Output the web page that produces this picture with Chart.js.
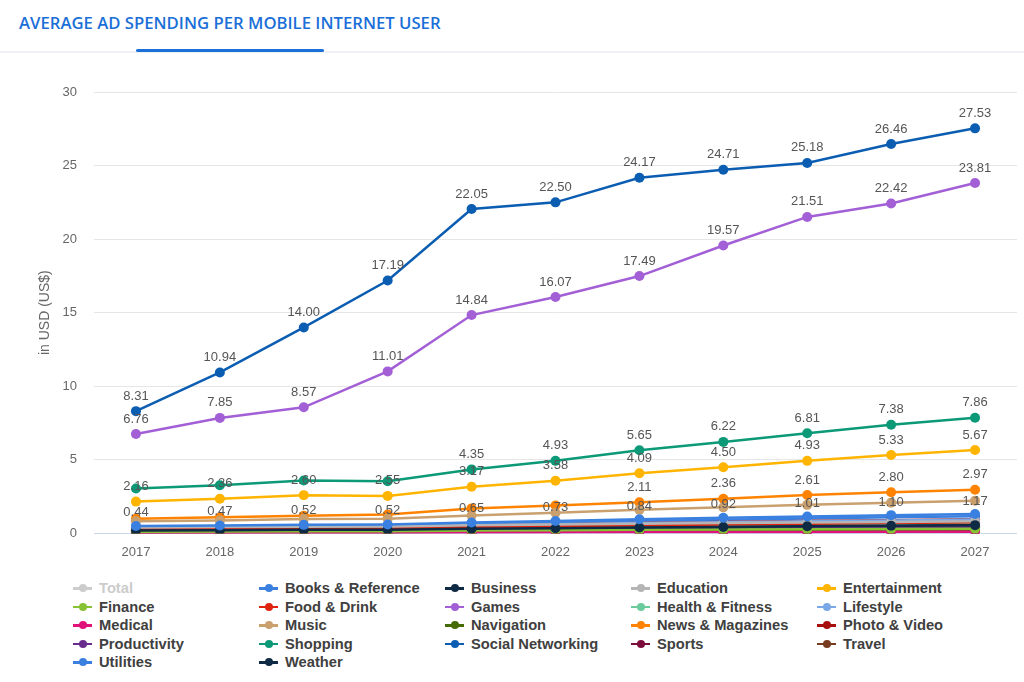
<!DOCTYPE html>
<html>
<head>
<meta charset="utf-8">
<script src="https://cdn.jsdelivr.net/npm/chart.js@4/dist/chart.umd.min.js"></script>
<style>
  html, body { margin: 0; padding: 0; background: #fff; }
  body { width: 1024px; height: 682px; position: relative; overflow: hidden; font-family: "Liberation Sans", Arial, sans-serif; }
  .head-title { position: absolute; left: 19px; top: 11px; font-family: "Open Sans", "Noto Sans", sans-serif; font-weight: 600; font-size: 16.7px; color: #1b6fd8; letter-spacing: 0; white-space: nowrap; }
  .head-rule { position: absolute; left: 0; top: 51px; width: 1024px; height: 2px; background: #f0f1f4; }
  .head-tab { position: absolute; left: 136px; top: 49px; width: 188px; height: 3px; background: #1b6fd8; border-radius: 2px; }
  #wrap { position: absolute; left: 0; top: 60px; width: 1024px; height: 510px; }
  #legend { position: absolute; left: 73px; top: 579px; display: grid; grid-template-columns: repeat(5, 186px); row-gap: 0; }
  .lg-item { height: 18.5px; display: flex; align-items: center; font-weight: bold; font-size: 14.7px; color: #404040; white-space: nowrap; }
  .lg-item.off { color: #cccccc; }
  .lg-icon { position: relative; width: 19px; height: 8px; margin-right: 7px; flex: none; }
  .lg-icon .ln { position: absolute; left: 0; top: 3px; width: 19px; height: 2.5px; }
  .lg-icon .dt { position: absolute; left: 5.5px; top: 0; width: 8px; height: 8px; border-radius: 50%; }
</style>
</head>
<body>
<div class="head-title">AVERAGE AD SPENDING PER MOBILE INTERNET USER</div>
<div class="head-rule"></div>
<div class="head-tab"></div>
<div id="wrap"><canvas id="chart"></canvas></div>
<div id="legend"></div>
<script>
const years = ['2017', '2018', '2019', '2020', '2021', '2022', '2023', '2024', '2025', '2026', '2027'];

// series values (US$ per user)
const total = [24.5, 30.1, 35.6, 42.3, 54.6, 57.8, 63.4, 67.9, 72.6, 77.0, 81.2];
const booksReference = [0.50, 0.54, 0.58, 0.60, 0.74, 0.84, 0.96, 1.06, 1.15, 1.24, 1.32];
const business = [0.20, 0.22, 0.24, 0.25, 0.31, 0.35, 0.40, 0.44, 0.48, 0.52, 0.56];
const education = [0.40, 0.43, 0.46, 0.47, 0.55, 0.60, 0.66, 0.70, 0.74, 0.78, 0.82];
const entertainment = [2.16, 2.36, 2.60, 2.55, 3.17, 3.58, 4.09, 4.50, 4.93, 5.33, 5.67];
const finance = [0.12, 0.13, 0.15, 0.15, 0.19, 0.21, 0.24, 0.26, 0.28, 0.30, 0.32];
const foodDrink = [0.27, 0.30, 0.33, 0.34, 0.43, 0.49, 0.56, 0.61, 0.66, 0.71, 0.76];
const games = [6.76, 7.85, 8.57, 11.01, 14.84, 16.07, 17.49, 19.57, 21.51, 22.42, 23.81];
const healthFitness = [0.30, 0.33, 0.36, 0.37, 0.45, 0.50, 0.56, 0.60, 0.64, 0.68, 0.72];
const lifestyle = [0.36, 0.39, 0.43, 0.44, 0.55, 0.62, 0.70, 0.76, 0.82, 0.88, 0.94];
const medical = [0.05, 0.05, 0.06, 0.06, 0.07, 0.08, 0.09, 0.10, 0.10, 0.11, 0.12];
const music = [0.82, 0.88, 0.98, 1.00, 1.22, 1.40, 1.60, 1.77, 1.94, 2.09, 2.22];
const navigation = [0.08, 0.09, 0.10, 0.10, 0.13, 0.14, 0.16, 0.17, 0.19, 0.20, 0.21];
const newsMagazines = [1.00, 1.09, 1.20, 1.28, 1.70, 1.90, 2.11, 2.36, 2.61, 2.80, 2.97];
const photoVideo = [0.33, 0.37, 0.41, 0.42, 0.54, 0.61, 0.70, 0.77, 0.84, 0.90, 0.96];
const productivity = [0.15, 0.17, 0.19, 0.19, 0.24, 0.27, 0.31, 0.34, 0.37, 0.40, 0.42];
const shopping = [3.05, 3.27, 3.60, 3.55, 4.35, 4.93, 5.65, 6.22, 6.81, 7.38, 7.86];
const socialNetworking = [8.31, 10.94, 14.00, 17.19, 22.05, 22.50, 24.17, 24.71, 25.18, 26.46, 27.53];
const sports = [0.06, 0.07, 0.08, 0.08, 0.10, 0.11, 0.12, 0.13, 0.14, 0.15, 0.16];
const travel = [0.18, 0.20, 0.22, 0.23, 0.29, 0.33, 0.37, 0.40, 0.43, 0.46, 0.49];
const utilities = [0.44, 0.47, 0.52, 0.52, 0.65, 0.73, 0.84, 0.92, 1.01, 1.10, 1.17];
const weather = [0.22, 0.24, 0.26, 0.27, 0.33, 0.37, 0.42, 0.46, 0.50, 0.54, 0.58];

const yTicks = [0, 5, 10, 15, 20, 25, 30];

const series = [
    { name: 'Total', data: total, color: '#c9c9c9', hidden: true },
    { name: 'Books & Reference', data: booksReference, color: '#3a80e0' },
    { name: 'Business', data: business, color: '#0f2a44' },
    { name: 'Education', data: education, color: '#b5b5b5' },
    { name: 'Entertainment', data: entertainment, color: '#ffb400' },
    { name: 'Finance', data: finance, color: '#86c232' },
    { name: 'Food & Drink', data: foodDrink, color: '#e0230f' },
    { name: 'Games', data: games, color: '#a35fd6' },
    { name: 'Health & Fitness', data: healthFitness, color: '#6ccb9c' },
    { name: 'Lifestyle', data: lifestyle, color: '#7aa8e6' },
    { name: 'Medical', data: medical, color: '#e0137a' },
    { name: 'Music', data: music, color: '#c9a06e' },
    { name: 'Navigation', data: navigation, color: '#466b04' },
    { name: 'News & Magazines', data: newsMagazines, color: '#ff8300' },
    { name: 'Photo & Video', data: photoVideo, color: '#a80f0f' },
    { name: 'Productivity', data: productivity, color: '#6a2c8c' },
    { name: 'Shopping', data: shopping, color: '#0c9977' },
    { name: 'Social Networking', data: socialNetworking, color: '#0b5db2' },
    { name: 'Sports', data: sports, color: '#7c0c3c' },
    { name: 'Travel', data: travel, color: '#773b1f' },
    { name: 'Utilities', data: utilities, color: '#3a80e0' },
    { name: 'Weather', data: weather, color: '#0f2a44' }
];

// which series get value labels, and from which year on
const labelFrom = {
    'Social Networking': 0,
    'Games': 0,
    'Shopping': 4,
    'Entertainment': 0,
    'News & Magazines': 6,
    'Utilities': 0
};

const valueLabels = {
    id: 'valueLabels',
    afterDatasetsDraw(chart) {
        const ctx = chart.ctx;
        ctx.save();
        ctx.font = '13px "Liberation Sans", Arial, sans-serif';
        ctx.fillStyle = '#555555';
        ctx.textAlign = 'center';
        ctx.textBaseline = 'middle';
        chart.data.datasets.forEach((ds, i) => {
            const from = labelFrom[ds.label];
            if (from === undefined || !chart.isDatasetVisible(i)) return;
            chart.getDatasetMeta(i).data.forEach((pt, j) => {
                if (j < from) return;
                ctx.fillText(ds.data[j].toFixed(2), pt.x, pt.y - 15);
            });
        });
        ctx.restore();
    }
};

new Chart(document.getElementById('chart'), {
    type: 'line',
    data: {
        labels: years,
        datasets: series.map(s => ({
            label: s.name,
            data: s.data,
            hidden: !!s.hidden,
            borderColor: s.color,
            backgroundColor: s.color,
            borderWidth: 2.5,
            pointRadius: 5,
            pointBorderWidth: 0,
            pointHoverRadius: 5,
            tension: 0
        }))
    },
    options: {
        responsive: true,
        maintainAspectRatio: false,
        animation: false,
        layout: { padding: { top: 32, right: 7, bottom: 7, left: 0 } },
        plugins: { legend: { display: false }, tooltip: { enabled: false } },
        scales: {
            x: {
                offset: true,
                grid: { display: false },
                border: { display: false },
                ticks: { color: '#666', font: { size: 13, family: '"Liberation Sans", Arial, sans-serif' }, padding: 3 }
            },
            y: {
                min: 0,
                max: 30,
                afterBuildTicks: axis => { axis.ticks = yTicks.map(v => ({ value: v })); },
                afterFit: axis => { axis.width = 94; },
                border: { display: false },
                grid: {
                    drawTicks: false,
                    color: c => c.tick && c.tick.value === 0 ? '#ccd6eb' : '#e6e6e6'
                },
                ticks: { color: '#666', font: { size: 13, family: '"Liberation Sans", Arial, sans-serif' }, padding: 17 },
                title: {
                    display: true,
                    text: 'in USD (US$)',
                    color: '#666',
                    font: { size: 14, family: '"Liberation Sans", Arial, sans-serif' },
                    padding: { top: 37, bottom: 0 }
                }
            }
        }
    },
    plugins: [valueLabels]
});

const legend = document.getElementById('legend');
legend.innerHTML = series.map(s => `
    <div class="lg-item${s.hidden ? ' off' : ''}">
        <span class="lg-icon"><span class="ln" style="background:${s.hidden ? '#cccccc' : s.color}"></span><span class="dt" style="background:${s.hidden ? '#cccccc' : s.color}"></span></span>${s.name}
    </div>`).join('');
</script>
</body>
</html>
